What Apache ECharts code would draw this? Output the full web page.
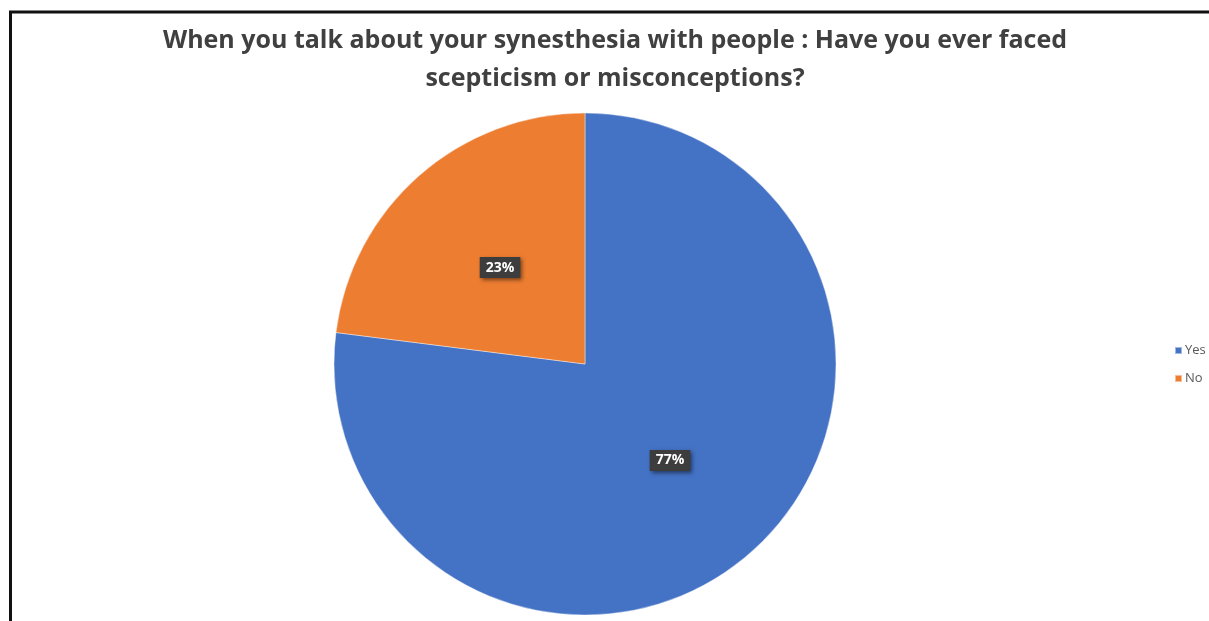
<!DOCTYPE html>
<html>
<head>
<meta charset="utf-8">
<script src="https://cdn.jsdelivr.net/npm/echarts@6/dist/echarts.min.js"></script>
<style>
html,body{margin:0;padding:0;background:#fff;}
#chart{width:1209px;height:621px;}
</style>
</head>
<body>
<div id="chart"></div>
<script>
const titleText = 'When you talk about your synesthesia with people : Have you ever faced\nscepticism or misconceptions?';
const categories = ['Yes', 'No'];
const values = [77, 23];
const colors = ['#4472C4', '#ED7D31'];

const chart = echarts.init(document.getElementById('chart'));
chart.setOption({
  backgroundColor: '#ffffff',
  animation: false,
  title: {
    text: titleText,
    left: 615,
    top: 22,
    padding: 0,
    textAlign: 'center',
    textStyle: {
      fontFamily: 'Open Sans',
      fontSize: 25,
      fontWeight: 'bold',
      color: '#404040',
      lineHeight: 38
    }
  },
  legend: {
    orient: 'vertical',
    left: 1174,
    top: 344,
    padding: 0,
    itemWidth: 7,
    itemHeight: 7,
    itemGap: 15,
    icon: 'rect',
    textStyle: { fontFamily: 'Open Sans', fontSize: 13, color: '#595959', padding: [0,0,0,-2] },
    data: categories
  },
  graphic: [{
    type: 'polyline',
    shape: { points: [[10.5, 625], [10.5, 12], [1215, 12]] },
    style: { stroke: '#111111', lineWidth: 3, fill: null }
  }],
  series: [{
    type: 'pie',
    center: [585, 364],
    radius: 251,
    startAngle: 90,
    clockwise: true,
    data: categories.map((c, i) => ({ name: c, value: values[i], itemStyle: { color: colors[i] } })),
    itemStyle: { borderColor: 'rgba(255,255,255,0.5)', borderWidth: 0.8 },
    label: {
      position: 'inside',
      formatter: '{d}%',
      fontFamily: 'Open Sans',
      fontSize: 14,
      fontWeight: 'bold',
      color: '#ffffff',
      backgroundColor: '#3d3d3d',
      padding: [4, 6, 3, 6],
      shadowColor: 'rgba(0,0,0,0.5)',
      shadowBlur: 4,
      shadowOffsetX: 2,
      shadowOffsetY: 2
    },
    labelLine: { show: false },
    emphasis: { disabled: true }
  }]
});
</script>
</body>
</html>
